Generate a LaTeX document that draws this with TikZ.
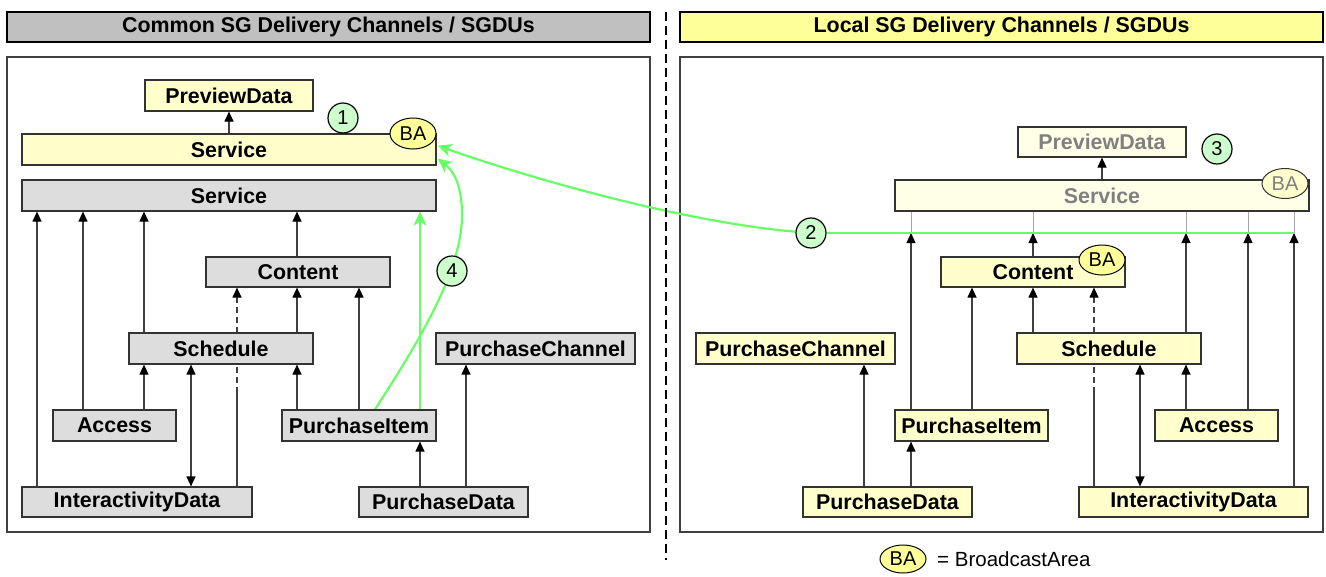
\documentclass[tikz,border=0pt]{standalone}
\usepackage{fontspec}
\setmainfont{Liberation Sans}
\usetikzlibrary{arrows.meta,shapes.geometric}
\definecolor{gfill}{HTML}{DDDDDD}
\definecolor{hgray}{HTML}{C0C0C0}
\definecolor{yfill}{HTML}{FFFFCC}
\definecolor{yhead}{HTML}{FFFF99}
\definecolor{bafill}{HTML}{FFFF99}
\definecolor{fadefill}{HTML}{FFFFE8}
\definecolor{fadetext}{HTML}{808080}
\definecolor{numfill}{HTML}{CCFFCC}
\definecolor{grn}{HTML}{66FF66}
\definecolor{edge}{HTML}{333333}
\definecolor{lin}{HTML}{404040}
\pgfdeclarelayer{back}
\pgfdeclarelayer{mid}
\pgfsetlayers{back,mid,main}
\newcommand\sgbox[7]{\pgfmathsetmacro\bw{#5-#3}\pgfmathsetmacro\bh{#6-#4}%
  \node[#2,minimum width=\bw pt,minimum height=\bh pt] (#1) at ({(#3+#5)/2},{(#4+#6)/2}) {#7};}
\begin{document}
\begin{tikzpicture}[x=1pt,y=-1pt,
 sbox/.style={draw=edge, line width=1.2pt, inner sep=0pt, font=\fontsize{21.4}{24}\selectfont\bfseries},
 gbox/.style={sbox, fill=gfill},
 ybox/.style={sbox, fill=yfill},
 fbox/.style={sbox, fill=fadefill, text=fadetext},
 hdbox/.style={draw=black, line width=1.3pt, inner sep=0pt, font=\fontsize{21.4}{24}\selectfont\bfseries},
 panel/.style={draw=lin, line width=1.2pt, fill=white, inner sep=0pt},
 ba/.style={ellipse, draw=black, line width=1pt, fill=bafill, inner sep=0pt, minimum width=46pt, minimum height=30pt, font=\fontsize{20}{24}\selectfont},
 fba/.style={ba, fill=yfill, text=fadetext, draw=edge},
 num/.style={circle, draw=black, line width=1.2pt, fill=numfill, inner sep=0pt, minimum size=30pt, font=\fontsize{20}{24}\selectfont},
 conn/.style={draw=lin, line width=1.2pt, -{Triangle[length=10pt,width=9pt,color=black]}},
 biconn/.style={draw=lin, line width=1.2pt, {Triangle[length=10pt,width=9pt,color=black]}-{Triangle[length=10pt,width=9pt,color=black]}},
 solidline/.style={draw=lin, line width=1.2pt},
 dconn/.style={conn, dash pattern=on 6pt off 4pt},
 thinline/.style={draw=black!35, line width=0.9pt},
 garrow/.style={draw=grn, line width=2.2pt, -{Stealth[length=14pt,width=13pt,inset=4pt]}},
 gline/.style={draw=grn, line width=2.2pt},
]
\useasboundingbox (0,0) rectangle (1326,576);
\begin{pgfonlayer}{back}
\fill[white] (0,0) rectangle (1326,576);
\sgbox{pL}{panel}{7}{57}{650}{532}{}
\sgbox{pR}{panel}{680}{57}{1323}{532}{}
\end{pgfonlayer}
% headers
\sgbox{hdL}{hdbox,fill=hgray}{7}{12}{650}{42}{Common SG Delivery Channels / SGDUs}
\sgbox{hdR}{hdbox,fill=yhead}{680}{12}{1323}{42}{Local SG Delivery Channels / SGDUs}
\coordinate (dvTop) at (665.5,12);
\coordinate (dvBot) at (665.5,560);
\draw[line width=2pt, dash pattern=on 9pt off 5pt] (dvTop) -- (dvBot);
% left boxes
\sgbox{prevL}{ybox}{145}{80}{313}{111}{PreviewData}
\sgbox{servY}{ybox}{22}{134}{436}{165}{Service}
\sgbox{servG}{gbox}{22}{180}{436}{211}{Service}
\sgbox{contL}{gbox}{206}{257}{390}{287}{Content}
\sgbox{schL}{gbox}{129}{333}{313}{364}{Schedule}
\sgbox{pchL}{gbox}{436}{333}{635}{364}{PurchaseChannel}
\sgbox{accL}{gbox}{53}{410}{176}{441}{Access}
\sgbox{piL}{gbox}{282}{410}{436}{441}{PurchaseItem}
\sgbox{intL}{gbox}{22}{487}{252}{517}{InteractivityData}
\sgbox{pdL}{gbox}{359}{487}{528}{517}{PurchaseData}
\node[ba, minimum height=31pt] (baL) at (413,133.5) {BA};
% right boxes
\sgbox{prevR}{fbox}{1018}{127}{1186}{157}{PreviewData}
\sgbox{servR}{fbox}{895}{180}{1309}{211}{Service}
\node[fba] (baR) at (1285,183.5) {BA};
\sgbox{contR}{ybox}{941}{257}{1125}{287}{Content}
\node[ba] (baC) at (1102,260) {BA};
\sgbox{pchR}{ybox}{696}{333}{895}{364}{PurchaseChannel}
\sgbox{schR}{ybox}{1017}{333}{1201}{364}{Schedule}
\sgbox{piR}{ybox}{895}{410}{1048}{441}{PurchaseItem}
\sgbox{accR}{ybox}{1155}{410}{1278}{441}{Access}
\sgbox{pdR}{ybox}{803}{487}{972}{517}{PurchaseData}
\sgbox{intR}{ybox}{1079}{487}{1308}{517}{InteractivityData}
% numbered circles
\node[num] (n1) at (343,118) {1};
\node[num] (n2) at (811,233) {2};
\node[num] (n3) at (1217,149) {3};
\node[num] (n4) at (452,271) {4};
% legend
\node[ba, minimum height=28pt] (baLeg) at (903,559) {BA};
\node[anchor=west, inner sep=0pt, font=\fontsize{20.5}{24}\selectfont] (leg) at (937,559) {= BroadcastArea};
% columns
\foreach \n/\x in {L1/37,L2/83,L3/144,L4/191,L5/237,L6/297,L7/359,L8/420,L9/466,L10/375,R1/864,R2/911,R3/972,R4/1033,R5/1094,R6/1140,R7/1186,R8/1248,R9/1294}
  \coordinate (\n) at (\x,0);
\coordinate (gl) at (0,233);
\coordinate (brk) at (0,393);
\begin{pgfonlayer}{mid}
% left connectors
\draw[conn] (intL.north -| L1) -- (servG.south -| L1);
\draw[conn] (accL.north -| L2) -- (servG.south -| L2);
\draw[conn] (schL.north -| L3) -- (servG.south -| L3);
\draw[conn] (contL.north -| L6) -- (servG.south -| L6);
\draw[conn] (accL.north -| L3) -- (schL.south -| L3);
\draw[biconn] (schL.south -| L4) -- (intL.north -| L4);
\draw[solidline] (intL.north -| L5) -- (brk -| L5);
\draw[dconn] (brk -| L5) -- (contL.south -| L5);
\draw[conn] (schL.north -| L6) -- (contL.south -| L6);
\draw[conn] (piL.north -| L6) -- (schL.south -| L6);
\draw[conn] (piL.north -| L7) -- (contL.south -| L7);
\draw[conn] (pdL.north -| L8) -- (piL.south -| L8);
\draw[conn] (pdL.north -| L9) -- (pchL.south -| L9);
\draw[conn] (servY) -- (prevL);
% right connectors
\draw[conn] (pdR.north -| R1) -- (pchR.south -| R1);
\draw[conn] (pdR.north -| R2) -- (piR.south -| R2);
\draw[conn] (piR.north -| R2) -- (R2 |- gl);
\draw[conn] (piR.north -| R3) -- (contR.south -| R3);
\draw[conn] (schR.north -| R4) -- (contR.south -| R4);
\draw[conn] (contR.north -| R4) -- (R4 |- gl);
\draw[solidline] (intR.north -| R5) -- (brk -| R5);
\draw[dconn] (brk -| R5) -- (contR.south -| R5);
\draw[biconn] (schR.south -| R6) -- (intR.north -| R6);
\draw[conn] (accR.north -| R7) -- (schR.south -| R7);
\draw[conn] (schR.north -| R7) -- (R7 |- gl);
\draw[conn] (accR.north -| R8) -- (R8 |- gl);
\draw[conn] (intR.north -| R9) -- (R9 |- gl);
\foreach \c in {R2,R4,R7,R8,R9} \draw[thinline] (servR.south -| \c) -- (\c |- gl);
\draw[conn] (servR) -- (prevR);
% green connectors
\draw[garrow] (piL.north -| L8) -- (servG.south -| L8);
\draw[garrow] (piL.north -| L10) .. controls (420,340) and (462,270) .. (462,215)
   .. controls (462,188) and (455,172) .. ([xshift=1pt,yshift=7pt]servY.south east);
\draw[garrow] (n2) .. controls (680,222) and (520,175) .. ([xshift=1pt,yshift=20pt]servY.south east);
\draw[gline] (n2) -- (R9 |- gl);
\end{pgfonlayer}
\end{tikzpicture}
\end{document}
